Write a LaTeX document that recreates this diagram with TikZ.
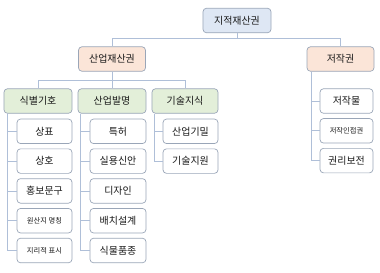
\documentclass[tikz,border=0pt]{standalone}
\usepackage{fontspec}
\usetikzlibrary{calc}
\setmainfont{Noto Sans CJK KR}
\definecolor{rootfill}{HTML}{DEE7F4}
\definecolor{peach}{HTML}{FBE5D8}
\definecolor{greenf}{HTML}{E3EFD9}
\definecolor{bordc}{HTML}{9AA6B8}
\definecolor{linec}{HTML}{AFBFD8}
\definecolor{textc}{HTML}{1A1A1A}
\begin{document}
\begin{tikzpicture}[x=1bp,y=-1bp,
  box/.style={draw=bordc, rounded corners=3.5bp, line width=0.7bp, inner sep=0pt,
    align=center, text=textc, font=\fontsize{10}{11}\selectfont, minimum height=24.5bp},
  rootbox/.style={box, fill=rootfill, minimum width=68bp},
  peachbox/.style={box, fill=peach, minimum width=67bp},
  greenbox/.style={box, fill=greenf, minimum width=67bp},
  leafbox/.style={box, fill=white, minimum width=55bp},
  small/.style={font=\fontsize{7.3}{8}\selectfont},
  conn/.style={draw=linec, line width=0.8bp}]
\useasboundingbox (0,0) rectangle (380,273);
% nodes
\node[rootbox] (root) at (237,20.5) {지적재산권};
\node[peachbox] (sanup) at (112,59) {산업재산권};
\node[peachbox] (jeojak) at (340.5,59) {저작권};
\node[greenbox, minimum width=68bp] (sik) at (38,101) {식별기호};
\node[greenbox, minimum width=68bp] (bal) at (112,101) {산업발명};
\node[greenbox, minimum width=66bp] (gis) at (185,101) {기술지식};
% column 1
\node[leafbox] (a1) at (44.5,131.3) {상표};
\node[leafbox] (a2) at (44.5,161.1) {상호};
\node[leafbox] (a3) at (44.5,190.9) {홍보문구};
\node[leafbox, small] (a4) at (44.5,220.7) {원산지 명칭};
\node[leafbox, small] (a5) at (44.5,250.5) {지리적 표시};
% column 2
\node[leafbox, minimum width=56bp] (b1) at (118,131.3) {특허};
\node[leafbox, minimum width=56bp] (b2) at (118,161.1) {실용신안};
\node[leafbox, minimum width=56bp] (b3) at (118,190.9) {디자인};
\node[leafbox, minimum width=56bp] (b4) at (118,220.7) {배치설계};
\node[leafbox, minimum width=56bp] (b5) at (118,250.5) {식물품종};
% column 3
\node[leafbox] (c1) at (190.5,131.3) {산업기밀};
\node[leafbox] (c2) at (190.5,161.1) {기술지원};
% column 4
\node[leafbox, minimum width=53bp] (d1) at (346.5,101) {저작물};
\node[leafbox, minimum width=53bp, small] (d2) at (346.5,130.8) {저작인접권};
\node[leafbox, minimum width=53bp] (d3) at (346.5,160.6) {권리보전};
% connectors level 1
\coordinate (rj) at ($(root.south)+(0,5.2)$);
\draw[conn] (root.south) -- (rj);
\draw[conn] (sanup.north) |- (rj) -| (jeojak.north);
% level 2
\coordinate (sj) at ($(sanup.south)+(0,8.7)$);
\draw[conn] (sanup.south) -- (sj);
\draw[conn] (sik.north) |- (sj) -| (gis.north);
\draw[conn] (sj) -- (bal.north);
% column connectors
\coordinate (s1) at ($(sik.south west)+(3.5,0)$);
\foreach \n in {a1,a2,a3,a4,a5} \draw[conn] (s1) |- (\n.west);
\coordinate (s2) at ($(bal.south west)+(3,0)$);
\foreach \n in {b1,b2,b3,b4,b5} \draw[conn] (s2) |- (\n.west);
\coordinate (s3) at ($(gis.south west)+(3,0)$);
\foreach \n in {c1,c2} \draw[conn] (s3) |- (\n.west);
\coordinate (s4) at ($(jeojak.south west)+(5,0)$);
\foreach \n in {d1,d2,d3} \draw[conn] (s4) |- (\n.west);
\end{tikzpicture}
\end{document}
